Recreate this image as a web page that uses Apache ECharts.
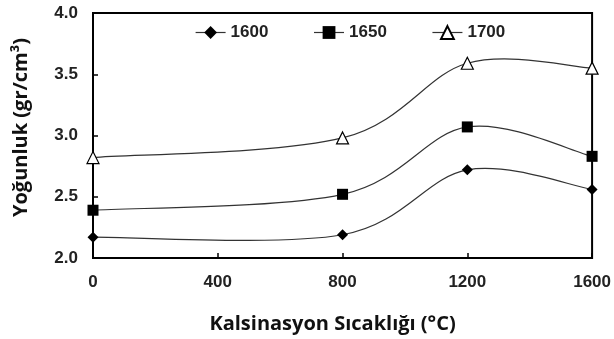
<!DOCTYPE html>
<html>
<head>
<meta charset="utf-8">
<script src="https://cdn.jsdelivr.net/npm/echarts@6/dist/echarts.min.js"></script>
<style>html,body{margin:0;padding:0;background:#fff}#c{width:614px;height:339px}</style>
</head>
<body>
<div id="c"></div>
<script>
// Calcination temperatures (°C)
const temps = [0, 800, 1200, 1600];
// Density (gr/cm³) for each sintering temperature
const d1600 = [2.17, 2.19, 2.72, 2.56];
const d1650 = [2.39, 2.52, 3.07, 2.83];
const d1700 = [2.82, 2.98, 3.59, 3.55];
const seriesNames = ['1600', '1650', '1700'];

const pairs = arr => temps.map((t, i) => [t, arr[i]]);
const lineColor = '#333';
const tickFont = { fontFamily: 'Liberation Sans, Arial', fontWeight: 'bold', fontSize: 17, color: '#222' };
const titleFont = { fontFamily: 'Open Sans', fontWeight: 'bold', fontSize: 20, color: '#111' };

// Smooth curve through the data: cubic Bézier segments whose control points
// follow the neighbouring points (Catmull-Rom tangents, one sixth of the chord).
function smoothCurve(values, id) {
  return {
    id, type: 'custom', z: 1, silent: true,
    data: pairs(values),
    encode: { x: 0, y: 1 },
    renderItem(params, api) {
      const i = params.dataIndex;
      const n = temps.length;
      if (i >= n - 1) return null;
      const p = k => api.coord([temps[Math.max(0, Math.min(n - 1, k))], values[Math.max(0, Math.min(n - 1, k))]]);
      const p0 = p(i - 1), p1 = p(i), p2 = p(i + 1), p3 = p(i + 2);
      return {
        type: 'bezierCurve',
        shape: {
          x1: p1[0], y1: p1[1], x2: p2[0], y2: p2[1],
          cpx1: p1[0] + (p2[0] - p0[0]) / 6, cpy1: p1[1] + (p2[1] - p0[1]) / 6,
          cpx2: p2[0] - (p3[0] - p1[0]) / 6, cpy2: p2[1] - (p3[1] - p1[1]) / 6
        },
        style: { stroke: lineColor, lineWidth: 1.2, fill: null }
      };
    }
  };
}

function markers(name, values, symbol, size, itemStyle) {
  return {
    name, type: 'line', z: 3, data: pairs(values), symbol, symbolSize: size,
    itemStyle, lineStyle: { opacity: 0 }
  };
}

const chart = echarts.init(document.getElementById('c'), null, { renderer: 'canvas' });
chart.setOption({
  animation: false,
  backgroundColor: '#fff',
  grid: { left: 93, right: 16, top: 13, bottom: 79, show: true, borderColor: '#000', borderWidth: 2 },
  legend: {
    top: 19, left: 190, itemGap: 45, itemWidth: 30, itemHeight: 16,
    lineStyle: { color: lineColor, width: 1.2, opacity: 1 },
    textStyle: { fontFamily: 'Liberation Sans, Arial', fontWeight: 'bold', fontSize: 17, color: '#222' },
    data: seriesNames
  },
  xAxis: {
    type: 'value', min: 0, max: 1600, interval: 400,
    axisLine: { lineStyle: { color: '#000', width: 2 } },
    axisTick: { inside: true, length: 5, lineStyle: { color: '#000', width: 1.5 } },
    splitLine: { show: false },
    axisLabel: Object.assign({ margin: 16, formatter: v => String(v) }, tickFont),
    name: 'Kalsinasyon Sıcaklığı (°C)', nameLocation: 'middle', nameGap: 56,
    nameTextStyle: Object.assign({ padding: [0, 20, 0, 0] }, titleFont)
  },
  yAxis: {
    type: 'value', min: 2.0, max: 4.0, interval: 0.5,
    axisLine: { show: true, lineStyle: { color: '#000', width: 2 } },
    axisTick: { show: true, inside: true, length: 5, lineStyle: { color: '#000', width: 1.5 } },
    splitLine: { show: false },
    axisLabel: Object.assign({ margin: 15, formatter: v => v.toFixed(1) }, tickFont),
    name: 'Yoğunluk (gr/cm³)', nameLocation: 'middle', nameGap: 62,
    nameTextStyle: Object.assign({ padding: [0, 0, 0, 16] }, titleFont)
  },
  series: [
    smoothCurve(d1600, 'curve1600'),
    smoothCurve(d1650, 'curve1650'),
    smoothCurve(d1700, 'curve1700'),
    markers('1600', d1600, 'diamond', 11, { color: '#000' }),
    markers('1650', d1650, 'rect', 11, { color: '#000' }),
    markers('1700', d1700, 'triangle', 12, { color: '#fff', borderColor: '#000', borderWidth: 1.2 })
  ]
});
</script>
</body>
</html>
